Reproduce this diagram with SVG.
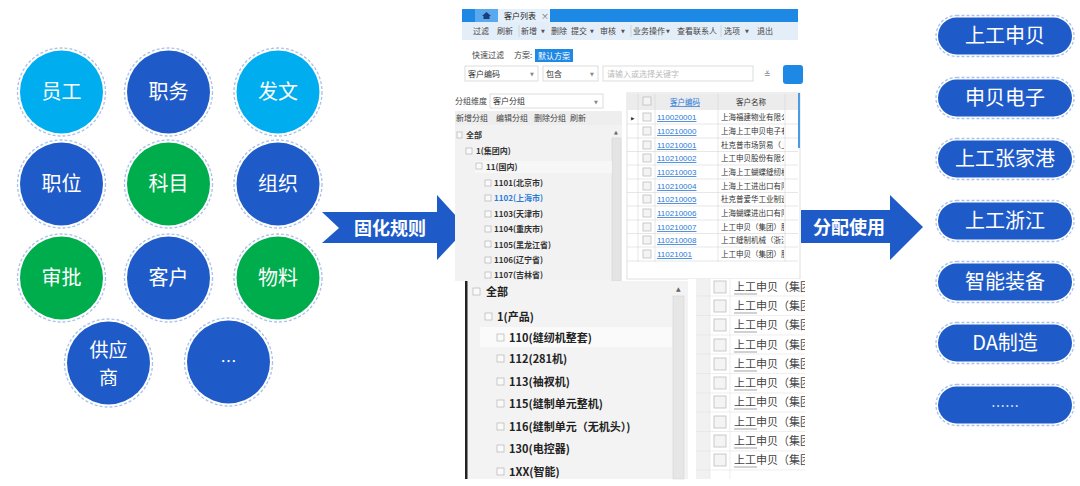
<svg xmlns="http://www.w3.org/2000/svg" width="1080" height="486" viewBox="0 0 1080 486">
<style>
.cj{font-family:"Noto Sans CJK SC","Noto Sans",sans-serif}
.lbl{font-family:"Noto Sans CJK SC","Noto Sans",sans-serif;font-size:20px;fill:#fff;text-anchor:middle}
.ring{fill:none;stroke:#a9c1ea;stroke-width:1.3;stroke-dasharray:3 2}
.dk{fill:#1f5bc8}.lt{fill:#00aeef}.gr{fill:#00ad4d}
.arrtxt{font-family:"Noto Sans CJK SC","Noto Sans",sans-serif;font-size:18px;font-weight:bold;fill:#fff;text-anchor:middle}
.t8{font-family:"Noto Sans CJK SC","Noto Sans",sans-serif;font-size:8px;fill:#444}
.tri{font-family:"DejaVu Sans",sans-serif;font-size:5px;fill:#555}
.t7{font-family:"Noto Sans CJK SC","Noto Sans",sans-serif;font-size:7.5px;fill:#333}
.tb{font-family:"Noto Sans CJK SC","Noto Sans",sans-serif;font-size:8px;fill:#333;font-weight:bold}
.tb2{font-family:"Noto Sans CJK SC","Noto Sans",sans-serif;font-size:11px;fill:#222;font-weight:bold}
.lnk{font-family:"Liberation Sans","Noto Sans",sans-serif;font-size:8px;fill:#2a7ad8;text-decoration:underline}
.cb{fill:#f4f4f4;stroke:#bdbdbd;stroke-width:0.8}
.pm{fill:#fafafa;stroke:#b5b5b5;stroke-width:0.7}
</style>
<rect width="1080" height="486" fill="#fff"/>

<!-- left circles -->
<g id="n-yuangong"><circle cx="61.5" cy="92" r="44" class="ring"/><circle cx="61.5" cy="92" r="41.5" class="lt"/><text x="61.5" y="99" class="lbl">员工</text></g>
<g id="n-zhiwu"><circle cx="168.5" cy="92" r="44" class="ring"/><circle cx="168.5" cy="92" r="41.5" class="dk"/><text x="168.5" y="99" class="lbl">职务</text></g>
<g id="n-fawen"><circle cx="278" cy="92" r="44" class="ring"/><circle cx="278" cy="92" r="41.5" class="lt"/><text x="278" y="99" class="lbl">发文</text></g>
<g id="n-zhiwei"><circle cx="61.5" cy="184" r="44" class="ring"/><circle cx="61.5" cy="184" r="41.5" class="dk"/><text x="61.5" y="191" class="lbl">职位</text></g>
<g id="n-kemu"><circle cx="168.5" cy="184" r="44" class="ring"/><circle cx="168.5" cy="184" r="41.5" class="gr"/><text x="168.5" y="191" class="lbl">科目</text></g>
<g id="n-zuzhi"><circle cx="278" cy="184" r="44" class="ring"/><circle cx="278" cy="184" r="41.5" class="dk"/><text x="278" y="191" class="lbl">组织</text></g>
<g id="n-shenpi"><circle cx="61.5" cy="278" r="44" class="ring"/><circle cx="61.5" cy="278" r="41.5" class="gr"/><text x="61.5" y="285" class="lbl">审批</text></g>
<g id="n-kehu"><circle cx="168.5" cy="278" r="44" class="ring"/><circle cx="168.5" cy="278" r="41.5" class="dk"/><text x="168.5" y="285" class="lbl">客户</text></g>
<g id="n-wuliao"><circle cx="278" cy="278" r="44" class="ring"/><circle cx="278" cy="278" r="41.5" class="gr"/><text x="278" y="285" class="lbl">物料</text></g>
<g id="n-gongying"><circle cx="108.5" cy="363" r="44" class="ring"/><circle cx="108.5" cy="363" r="41.5" class="dk"/><text x="108.5" y="357" class="lbl" style="font-size:19px">供应</text><text x="108.5" y="385" class="lbl" style="font-size:19px">商</text></g>
<g id="n-more"><circle cx="228.5" cy="362" r="44" class="ring"/><circle cx="228.5" cy="362" r="41.5" class="dk"/><text x="228.5" y="367" class="lbl" style="font-size:16px">…</text></g>

<!-- connectors (block arrows) -->
<g id="connectors">
<path d="M322,212 L437,212 L437,195 L467,228 L437,260 L437,243 L322,243 L339,228 Z" class="dk"/>
<text x="390" y="234.5" class="arrtxt">固化规则</text>
<path d="M798,210 L890,210 L890,195 L923,227 L890,260 L890,243 L798,243 Z" class="dk"/>
<text x="849" y="234" class="arrtxt">分配使用</text>
</g>

<!-- screenshot -->
<g id="screenshot">
<rect x="455" y="8" width="346" height="472" fill="#fff"/>
<!-- tab bar -->
<rect x="462" y="9" width="336" height="13" fill="#1e88e5"/>
<rect x="475" y="9" width="23" height="13" fill="#5aa9ee"/>
<path d="M486.5,12 L482,16 L483.5,16 L483.5,19 L489.5,19 L489.5,16 L491,16 Z" fill="#1a3e78"/>
<rect x="498" y="9" width="52" height="13" fill="#e6f0fa"/>
<text x="504" y="18.5" class="t8" style="fill:#222">客户列表</text>
<text x="541" y="18.5" class="t8" style="fill:#666">×</text>
<!-- toolbar -->
<rect x="462" y="22" width="336" height="18" fill="#e4eef9"/>
<g class="t8">
<text x="473" y="34">过滤</text><text x="497" y="34">刷新</text>
<text x="521" y="34">新增</text>
<text x="551" y="34">删除</text><text x="571" y="34">提交</text>
<text x="600" y="34">审核</text>
<text x="633" y="34">业务操作</text>
<text x="677" y="34">查看联系人</text>
<text x="724" y="34">选项</text>
<text x="757" y="34">退出</text>
</g>
<g class="tri"><text x="541" y="33">▼</text><text x="590" y="33">▼</text><text x="621" y="33">▼</text><text x="666" y="33">▼</text><text x="745" y="33">▼</text></g>
<g stroke="#b8c8dc" stroke-width="0.7"><line x1="519" y1="25" x2="519" y2="37"/><line x1="631" y1="25" x2="631" y2="37"/><line x1="721" y1="25" x2="721" y2="37"/></g>
<!-- quick filter -->
<text x="472" y="58" class="t8">快速过滤</text>
<text x="514" y="58" class="t8">方案:</text>
<rect x="535" y="49" width="38" height="13" fill="#1e88e5"/>
<text x="554" y="58.5" class="t8" style="fill:#fff;text-anchor:middle">默认方案</text>
<g fill="#fff" stroke="#d4d4d4" stroke-width="0.8">
<rect x="465" y="66" width="73" height="15"/><rect x="543" y="66" width="55" height="15"/><rect x="603" y="66" width="150" height="15"/>
</g>
<text x="468" y="76.5" class="t8" style="fill:#333">客户编码</text><text x="530" y="76" class="tri" style="fill:#888">▼</text>
<text x="546" y="76.5" class="t8" style="fill:#333">包含</text><text x="590" y="76" class="tri" style="fill:#888">▼</text>
<text x="607" y="76.5" class="t8" style="fill:#bbb">请输入或选择关键字</text>
<text x="764" y="77" class="t8" style="fill:#888">≚</text>
<rect x="783" y="65" width="20" height="19" rx="3" fill="#1e88e5"/>
<!-- group dimension -->
<text x="455" y="104" class="t8">分组维度</text>
<rect x="490" y="94" width="113" height="14" fill="#fff" stroke="#d4d4d4" stroke-width="0.8"/>
<text x="493" y="104" class="t8" style="fill:#333">客户分组</text><text x="594" y="103.5" class="tri" style="fill:#888">▼</text>
<rect x="455" y="111" width="167" height="14" fill="#eeeeee"/>
<g class="t8"><text x="456" y="121">新增分组</text><text x="496" y="121">编辑分组</text><text x="534" y="121">删除分组</text><text x="570" y="121">刷新</text></g>
<!-- tree -->
<rect x="455" y="125" width="167" height="156" fill="#f2f2f2"/>
<rect x="612" y="138" width="9" height="143" fill="#e4e4e4" stroke="#d0d0d0" stroke-width="0.5"/>
<text x="614" y="134" class="tri" style="fill:#666">▲</text>
<rect x="475" y="161" width="137" height="12" fill="#f7f7f7"/>
<g class="tb">
<rect x="457" y="132" width="5" height="6" class="pm"/><text x="466" y="138">全部</text>
<rect x="466" y="148" width="6" height="6" class="pm"/><text x="476" y="154">1(集团内)</text>
<rect x="476" y="163" width="6" height="6" class="pm"/><text x="486" y="169.5">11(国内)</text>
<rect x="485" y="180" width="6" height="6" class="pm"/><text x="494" y="186">1101(北京市)</text>
<rect x="485" y="195" width="6" height="6" class="pm"/><text x="494" y="201" style="fill:#2a7ad8">1102(上海市)</text>
<rect x="485" y="211" width="6" height="6" class="pm"/><text x="494" y="217">1103(天津市)</text>
<rect x="485" y="226" width="6" height="6" class="pm"/><text x="494" y="232">1104(重庆市)</text>
<rect x="485" y="241" width="6" height="6" class="pm"/><text x="494" y="247.5">1105(黑龙江省)</text>
<rect x="485" y="257" width="6" height="6" class="pm"/><text x="494" y="263">1106(辽宁省)</text>
<rect x="485" y="272" width="6" height="6" class="pm"/><text x="494" y="278">1107(吉林省)</text>
</g>
<!-- right grid -->
<rect x="627" y="93" width="173" height="186" fill="#fff" stroke="#d8d8d8" stroke-width="0.8"/>
<rect x="627" y="94" width="173" height="16" fill="#ececec"/>
<rect x="798" y="93" width="2" height="55" fill="#4a9ae8"/>
<g stroke="#d6d6d6" stroke-width="0.6">
<line x1="638" y1="94" x2="638" y2="262"/><line x1="655" y1="94" x2="655" y2="262"/><line x1="718" y1="94" x2="718" y2="262"/><line x1="785" y1="94" x2="785" y2="262"/>
<line x1="627" y1="124" x2="798" y2="124"/><line x1="627" y1="138" x2="798" y2="138"/><line x1="627" y1="151.5" x2="798" y2="151.5"/><line x1="627" y1="165" x2="798" y2="165"/><line x1="627" y1="179" x2="798" y2="179"/><line x1="627" y1="192.5" x2="798" y2="192.5"/><line x1="627" y1="206" x2="798" y2="206"/><line x1="627" y1="220" x2="798" y2="220"/><line x1="627" y1="233.5" x2="798" y2="233.5"/><line x1="627" y1="247" x2="798" y2="247"/><line x1="627" y1="261" x2="798" y2="261"/>
</g>
<rect x="643" y="97" width="8" height="8" class="cb"/>
<text x="670" y="105" class="t7" style="fill:#2a7ad8;text-decoration:underline">客户编码</text>
<text x="736" y="105" class="t7">客户名称</text>
<text x="631" y="120" class="tri" style="font-size:4.5px;fill:#333">▶</text>
<g>
<rect x="643" y="113" width="8" height="8" class="cb"/><rect x="643" y="127" width="8" height="8" class="cb"/><rect x="643" y="141" width="8" height="8" class="cb"/><rect x="643" y="154" width="8" height="8" class="cb"/><rect x="643" y="168" width="8" height="8" class="cb"/><rect x="643" y="182" width="8" height="8" class="cb"/><rect x="643" y="195" width="8" height="8" class="cb"/><rect x="643" y="209" width="8" height="8" class="cb"/><rect x="643" y="223" width="8" height="8" class="cb"/><rect x="643" y="236" width="8" height="8" class="cb"/><rect x="643" y="250" width="8" height="8" class="cb"/>
</g>
<g class="lnk">
<text x="657" y="120">110020001</text><text x="657" y="134">110210000</text><text x="657" y="148">110210001</text><text x="657" y="161">110210002</text><text x="657" y="175">110210003</text><text x="657" y="189">110210004</text><text x="657" y="202">110210005</text><text x="657" y="216">110210006</text><text x="657" y="230">110210007</text><text x="657" y="243">110210008</text><text x="657" y="257">11021001</text>
</g>
<svg x="720" y="110" width="64" height="152" overflow="hidden">
<g class="t7">
<text x="1" y="10">上海福建物业有限公司</text><text x="1" y="24">上海上工申贝电子有限公司</text><text x="1" y="38">杜克普市场贸易（上海）</text><text x="1" y="51">上工申贝股份有限公司</text><text x="1" y="65">上海上工蝴蝶缝纫机有限公司</text><text x="1" y="79">上海上工进出口有限公司</text><text x="1" y="92">杜克普爱华工业制造</text><text x="1" y="106">上海蝴蝶进出口有限公司</text><text x="1" y="120">上工申贝（集团）股份</text><text x="1" y="133">上工缝制机械（浙江）</text><text x="1" y="147">上工申贝（集团）股份</text>
</g>
</svg>
<!-- lower overlay: tree -->
<rect x="465" y="281" width="223" height="198" fill="#f3f3f3"/>
<rect x="465" y="281" width="2.5" height="198" fill="#222"/>
<rect x="480" y="327" width="192" height="20" fill="#fafafa"/>
<rect x="673" y="296" width="11" height="183" fill="#e6e6e6" stroke="#d0d0d0" stroke-width="0.5"/>
<text x="676" y="291" class="tri" style="font-size:6px;fill:#666">▲</text>
<g class="tb2">
<rect x="473" y="288" width="7" height="7" class="pm"/><text x="486" y="296">全部</text>
<rect x="485" y="313" width="7" height="7" class="pm"/><text x="497" y="321">1(产品)</text>
<rect x="497" y="334" width="7" height="7" class="pm"/><text x="509" y="342">110(缝纫机整套)</text>
<rect x="497" y="355" width="7" height="7" class="pm"/><text x="509" y="363">112(281机)</text>
<rect x="497" y="378" width="7" height="7" class="pm"/><text x="509" y="386">113(袖衩机)</text>
<rect x="497" y="400" width="7" height="7" class="pm"/><text x="509" y="408">115(缝制单元整机)</text>
<rect x="497" y="423" width="7" height="7" class="pm"/><text x="509" y="431">116(缝制单元（无机头）)</text>
<rect x="497" y="445" width="7" height="7" class="pm"/><text x="509" y="453">130(电控器)</text>
<rect x="497" y="468" width="7" height="7" class="pm"/><text x="509" y="476">1XX(智能)</text>
</g>
<!-- lower overlay: grid -->
<rect x="688" y="279" width="117" height="200" fill="#fff"/>
<rect x="696" y="279" width="14" height="200" fill="#f1f1f1"/>
<g stroke="#e2e2e2" stroke-width="0.6">
<line x1="710" y1="279" x2="710" y2="479"/><line x1="730" y1="279" x2="730" y2="479"/>
<line x1="696" y1="296" x2="805" y2="296"/><line x1="696" y1="315.5" x2="805" y2="315.5"/><line x1="696" y1="335" x2="805" y2="335"/><line x1="696" y1="354" x2="805" y2="354"/><line x1="696" y1="373.5" x2="805" y2="373.5"/><line x1="696" y1="393" x2="805" y2="393"/><line x1="696" y1="412" x2="805" y2="412"/><line x1="696" y1="431.5" x2="805" y2="431.5"/><line x1="696" y1="451" x2="805" y2="451"/><line x1="696" y1="470" x2="805" y2="470"/>
</g>
<g>
<rect x="714" y="281" width="12" height="12" class="cb"/><rect x="714" y="300" width="12" height="12" class="cb"/><rect x="714" y="319" width="12" height="12" class="cb"/><rect x="714" y="339" width="12" height="12" class="cb"/><rect x="714" y="358" width="12" height="12" class="cb"/><rect x="714" y="377" width="12" height="12" class="cb"/><rect x="714" y="396" width="12" height="12" class="cb"/><rect x="714" y="416" width="12" height="12" class="cb"/><rect x="714" y="435" width="12" height="12" class="cb"/><rect x="714" y="454" width="12" height="12" class="cb"/>
</g>
<svg x="733" y="279" width="72" height="200" overflow="hidden">
<g class="cj" style="font-size:11px;fill:#444">
<text x="1" y="12">上工申贝（集团</text><text x="1" y="31">上工申贝（集团</text><text x="1" y="50">上工申贝（集团</text><text x="1" y="70">上工申贝（集团</text><text x="1" y="89">上工申贝（集团</text><text x="1" y="108">上工申贝（集团</text><text x="1" y="127">上工申贝（集团</text><text x="1" y="147">上工申贝（集团</text><text x="1" y="166">上工申贝（集团</text><text x="1" y="185">上工申贝（集团</text>
</g>
<g stroke="#666" stroke-width="0.6"><line x1="1" y1="15" x2="24" y2="15"/><line x1="1" y1="34" x2="24" y2="34"/><line x1="1" y1="53" x2="24" y2="53"/><line x1="1" y1="73" x2="24" y2="73"/><line x1="1" y1="92" x2="24" y2="92"/><line x1="1" y1="111" x2="24" y2="111"/><line x1="1" y1="130" x2="24" y2="130"/><line x1="1" y1="150" x2="24" y2="150"/><line x1="1" y1="169" x2="24" y2="169"/><line x1="1" y1="188" x2="24" y2="188"/></g>
</svg>
</g>

<!-- right pills -->
<g id="p-sgsb"><rect x="936" y="15.5" width="138" height="41" rx="20.5" class="ring"/><rect x="938" y="17.5" width="134" height="37" rx="18.5" class="dk"/><text x="1005" y="43" class="lbl">上工申贝</text></g>
<g id="p-sbdz"><rect x="936" y="77.5" width="138" height="41" rx="20.5" class="ring"/><rect x="938" y="79.5" width="134" height="37" rx="18.5" class="dk"/><text x="1005" y="105" class="lbl">申贝电子</text></g>
<g id="p-zjg"><rect x="936" y="138.5" width="138" height="41" rx="20.5" class="ring"/><rect x="938" y="140.5" width="134" height="37" rx="18.5" class="dk"/><text x="1005" y="166" class="lbl">上工张家港</text></g>
<g id="p-zj"><rect x="936" y="200.5" width="138" height="41" rx="20.5" class="ring"/><rect x="938" y="202.5" width="134" height="37" rx="18.5" class="dk"/><text x="1005" y="228" class="lbl">上工浙江</text></g>
<g id="p-znzb"><rect x="936" y="261.5" width="138" height="41" rx="20.5" class="ring"/><rect x="938" y="263.5" width="134" height="37" rx="18.5" class="dk"/><text x="1005" y="289" class="lbl">智能装备</text></g>
<g id="p-da"><rect x="936" y="322.5" width="138" height="41" rx="20.5" class="ring"/><rect x="938" y="324.5" width="134" height="37" rx="18.5" class="dk"/><text x="1005" y="350" class="lbl">DA制造</text></g>
<g id="p-more"><rect x="936" y="384.5" width="138" height="41" rx="20.5" class="ring"/><rect x="938" y="386.5" width="134" height="37" rx="18.5" class="dk"/><text x="1005" y="411" class="lbl" style="font-size:14px">……</text></g>
</svg>
